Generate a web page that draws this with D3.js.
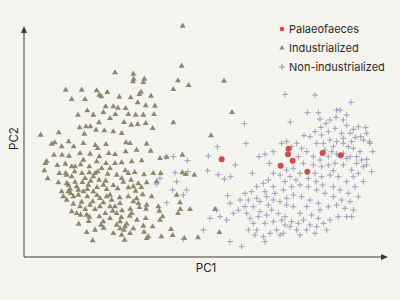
<!DOCTYPE html>
<html>
<head>
<meta charset="utf-8">
<script src="https://cdn.jsdelivr.net/npm/d3@7"></script>
<style>
  body { margin: 0; background: #f5f4ee; }
  svg { display: block; font-family: Inter, "Noto Sans", sans-serif; }
</style>
</head>
<body>
<div id="chart"></div>
<script>
// PC scores, [PC1, PC2]
const palaeofaeces = [
  [0.65, -0.28], [2.66, 0.04], [2.64, -0.13], [2.78, -0.32], [2.42, -0.47],
  [3.22, -0.65], [3.68, -0.09], [4.22, -0.16]
];

const industrialized = [
  [-0.52, 3.72], [-0.55, 2.52], [0.72, 2.07], [0.96, 1.13], [0.33, 0.43], [-0.80, 0.82], [-0.66, 2.08],
  [-0.34, 1.94], [-0.80, 1.82], [-2.55, 2.32], [-2.00, 2.28], [-1.99, 2.13], [-2.01, 2.05], [-1.67, 2.13],
  [-1.70, 2.03], [-4.03, 1.80], [-3.55, 1.80], [-3.10, 1.78], [-3.02, 1.65], [-2.96, 1.60], [-2.78, 1.73],
  [-3.85, 1.52], [-3.45, 1.52], [-2.42, 1.59], [-2.08, 1.57], [-1.82, 1.67], [-1.77, 1.74], [-1.47, 1.62],
  [-1.87, 1.42], [-2.83, 1.30], [-2.60, 1.30], [-2.46, 1.26], [-2.23, 1.25], [-1.63, 1.33], [-1.35, 1.32],
  [-3.66, 1.05], [-3.20, 1.05], [-3.38, 1.18], [-2.90, 1.13], [-2.70, 0.95], [-2.54, 1.07], [-2.15, 1.07],
  [-1.93, 1.05], [-1.70, 1.05], [-1.38, 1.07], [-3.29, 0.70], [-3.61, 0.67], [-3.42, 0.70], [-3.47, 0.48],
  [-3.12, 0.60], [-2.87, 0.58], [-3.03, 0.82], [-2.28, 0.83], [-2.06, 0.75], [-1.87, 0.77], [-1.63, 0.80],
  [-1.42, 0.65], [-2.60, 0.55], [-2.35, 0.50], [-4.78, 0.45], [-4.24, 0.52], [-3.94, 0.25], [-4.45, 0.18],
  [-4.36, 0.22], [-4.15, 0.10], [-3.79, 0.10], [-3.50, 0.20], [-3.14, 0.14], [-3.07, 0.05], [-2.82, 0.17],
  [-2.22, 0.22], [-2.10, 0.20], [-1.90, 0.00], [-1.60, 0.18], [-1.48, -0.03], [-1.20, -0.25], [-1.00, -0.22],
  [-0.53, -0.15], [-4.38, -0.15], [-4.14, -0.15], [-3.93, -0.18], [-3.60, -0.10], [-3.30, -0.12], [-3.02, -0.20],
  [-2.74, -0.10], [-2.55, -0.13], [-2.23, -0.05], [-4.60, -0.34], [-4.64, -0.40], [-4.28, -0.46], [-4.04, -0.42],
  [-3.85, -0.50], [-3.58, -0.44], [-3.32, -0.50], [-3.10, -0.35], [-2.82, -0.40], [-2.55, -0.40], [-2.35, -0.38],
  [-2.05, -0.35], [-1.75, -0.32], [-4.67, -0.62], [-4.57, -0.86], [-4.22, -0.70], [-4.03, -0.70], [-3.76, -0.65],
  [-3.54, -0.70], [-3.32, -0.68], [-3.07, -0.65], [-2.77, -0.72], [-2.50, -0.75], [-2.24, -0.62], [-1.96, -0.67],
  [-1.68, -0.74], [-1.40, -0.70], [-1.18, -0.70], [-0.53, -0.68], [-0.43, -0.73], [-0.17, -0.75], [-4.25, -0.98],
  [-4.00, -1.00], [-3.75, -0.96], [-3.53, -0.97], [-3.28, -0.93], [-3.03, -0.90], [-2.83, -0.93], [-2.60, -1.06],
  [-2.30, -0.96], [-2.07, -0.90], [-1.85, -1.01], [-1.60, -0.98], [-1.30, -0.95], [-3.90, -1.17], [-3.65, -1.20],
  [-3.38, -1.18], [-3.09, -1.12], [-2.80, -1.18], [-2.47, -1.16], [-2.15, -1.13], [-1.93, -1.23], [-1.76, -1.12],
  [-4.10, -1.40], [-3.88, -1.30], [-3.65, -1.35], [-3.38, -1.40], [-3.09, -1.36], [-2.70, -1.35], [-2.41, -1.43],
  [-2.15, -1.40], [-1.90, -1.46], [-1.72, -1.34], [-1.45, -1.40], [-0.70, -1.35], [-4.00, -1.50], [-3.80, -1.62],
  [-3.55, -1.56], [-3.22, -1.55], [-2.90, -1.58], [-2.70, -1.70], [-2.40, -1.60], [-2.00, -1.55], [-1.60, -1.65],
  [-1.25, -1.70], [-0.60, -1.58], [-3.70, -1.90], [-3.44, -1.78], [-3.15, -1.78], [-2.84, -1.90], [-2.62, -1.83],
  [-2.34, -1.82], [-2.09, -1.77], [-1.82, -1.72], [-1.62, -1.77], [-1.22, -1.83], [-0.59, -1.78], [-0.30, -1.78],
  [0.45, -1.78], [-3.58, -1.95], [-3.32, -2.01], [-3.02, -2.00], [-2.70, -2.05], [-2.36, -2.02], [-2.11, -1.98],
  [-1.89, -2.10], [-1.63, -2.05], [-1.12, -2.00], [-0.66, -1.90], [-3.64, -2.22], [-3.34, -2.14], [-2.97, -2.25],
  [-2.50, -2.25], [-2.20, -2.22], [-1.70, -2.28], [-1.42, -2.30], [-1.20, -2.10], [-0.87, -2.38], [-3.40, -2.47],
  [-2.89, -2.34], [-2.40, -2.36], [-2.28, -2.40], [-2.00, -2.36], [-1.68, -2.46], [-1.55, -2.60], [-1.16, -2.60],
  [-0.82, -2.56], [-0.47, -2.65], [-0.06, -2.63], [-3.22, -2.72], [-2.26, -2.70], [-1.60, -2.65], [0.58, -2.47],
  [-3.95, -1.05], [-3.85, -0.80], [-3.70, -1.10], [-3.50, -1.25], [-3.35, -1.05], [-3.20, -1.25], [-3.00, -1.45],
  [-3.15, -0.70], [-3.45, -0.85], [-2.90, -1.05], [-2.80, -1.40], [-2.65, -1.50], [-2.55, -1.70], [-2.50, -1.90],
  [-2.40, -2.15], [-2.25, -2.30], [-2.10, -2.50], [-2.35, -2.55], [-3.00, -1.70], [-3.30, -1.65], [-3.60, -1.70],
  [-3.80, -1.40], [-3.95, -1.25], [-3.75, -0.50], [-3.50, -0.30], [-2.95, -0.55], [-2.70, -0.55], [-3.20, -0.80],
  [-2.35, -0.85], [-2.15, -0.70], [-2.00, -1.10], [-1.85, -1.60], [-2.05, -1.90], [-2.90, -2.15], [-3.15, -2.40],
  [-2.60, -2.50], [-4.00, -0.75], [-4.15, -1.25], [-3.85, -1.85], [-3.40, -1.95]
];

const nonIndustrialized = [
  [2.55, 1.67], [3.45, 1.65], [4.53, 1.43], [3.22, 1.12], [3.55, 1.12], [4.10, 1.20], [4.20, 1.20],
  [4.40, 1.05], [1.33, 0.79], [2.71, 0.84], [4.97, 0.67], [1.38, 0.20], [3.12, 0.43], [0.52, 0.10],
  [0.25, -0.18], [-1.02, -0.20], [-0.80, -0.20], [-0.38, -0.32], [-0.75, -0.68], [-0.36, -0.65], [-1.20, -0.85],
  [-1.30, -1.02], [-0.82, -1.20], [0.83, -1.37], [1.06, -0.45], [0.23, -0.62], [0.55, -0.74], [0.73, -0.87],
  [0.92, -0.80], [1.57, -0.70], [1.77, -0.20], [1.95, -0.13], [2.08, -0.40], [2.45, 0.20], [2.60, 0.25],
  [2.20, -0.05], [3.60, 0.93], [3.78, 0.80], [3.63, 0.68], [3.90, 0.90], [4.08, 0.98], [4.30, 0.90],
  [4.40, 0.74], [4.60, 0.62], [4.75, 0.70], [4.82, 0.40], [4.90, 0.30], [5.08, 0.25], [4.66, 0.38],
  [4.50, 0.50], [4.25, 0.50], [4.05, 0.65], [3.85, 0.55], [3.65, 0.45], [3.45, 0.55], [3.30, 0.40],
  [3.50, 0.20], [3.70, 0.20], [3.90, 0.30], [4.10, 0.25], [4.30, 0.20], [4.45, 0.10], [4.60, 0.05],
  [4.80, -0.05], [5.00, -0.28], [5.15, -0.65], [4.90, -0.50], [4.70, -0.40], [4.50, -0.20], [4.30, -0.10],
  [4.10, -0.12], [3.95, -0.05], [3.85, -0.20], [3.60, -0.30], [3.40, -0.20], [3.20, -0.05], [3.05, 0.05],
  [2.90, 0.20], [2.75, 0.10], [2.95, -0.20], [3.10, -0.40], [3.40, -0.45], [3.65, -0.50], [3.85, -0.45],
  [4.05, -0.40], [4.30, -0.45], [4.55, -0.60], [4.75, -0.70], [4.90, -0.95], [4.65, -1.10], [4.40, -0.95],
  [4.15, -0.80], [3.90, -0.75], [3.65, -0.80], [3.45, -0.70], [3.25, -0.85], [3.00, -0.70], [2.80, -0.55],
  [2.60, -0.60], [2.40, -0.75], [2.20, -0.70], [2.05, -0.90], [1.90, -1.00], [1.70, -1.10], [1.55, -1.25],
  [1.35, -1.30], [1.20, -1.50], [1.15, -1.80], [1.40, -1.90], [1.60, -1.70], [1.80, -1.55], [2.00, -1.40],
  [2.25, -1.30], [2.50, -1.20], [2.75, -1.10], [3.00, -1.05], [3.25, -1.10], [3.50, -1.20], [3.75, -1.30],
  [4.00, -1.40], [4.25, -1.50], [4.50, -1.55], [4.75, -1.40], [4.60, -1.80], [4.40, -2.00], [4.15, -2.00],
  [3.90, -2.10], [3.70, -2.20], [3.50, -2.30], [3.80, -2.40], [3.45, -2.50], [3.20, -2.40], [2.95, -2.20],
  [2.75, -2.15], [2.55, -2.00], [2.35, -1.90], [2.15, -1.80], [2.00, -1.95], [1.75, -2.00], [1.60, -2.20],
  [1.45, -2.40], [1.65, -2.55], [1.90, -2.60], [2.10, -2.50], [2.30, -2.40], [2.50, -2.50], [2.70, -2.30],
  [2.90, -2.40], [3.10, -2.10], [3.35, -1.95], [3.60, -1.80], [3.85, -1.70], [4.10, -1.65], [3.20, -1.70],
  [3.00, -1.90], [2.80, -1.70], [2.60, -1.65], [2.40, -1.55], [2.20, -1.50], [2.60, -1.45], [2.80, -1.35],
  [3.05, -1.40], [3.30, -1.50], [3.55, -1.60], [0.90, -1.60], [1.00, -1.90], [0.80, -2.10], [0.60, -2.00],
  [0.30, -2.05], [0.10, -2.40], [0.90, -2.75], [1.25, -2.90], [1.95, -2.75], [2.40, -2.55], [2.55, -2.25],
  [1.70, -2.40], [5.10, 0.20], [5.00, 0.50], [5.18, -0.05], [5.00, -0.45], [3.48, -0.95], [3.68, -1.05],
  [4.00, -1.10], [4.20, -1.20], [4.45, -1.30], [4.00, -0.62], [3.75, 0.00], [4.00, 0.10], [4.30, 0.35],
  [4.55, 0.25], [4.40, -0.25], [4.70, -0.20], [4.85, -0.30], [4.60, -0.80], [2.88, -0.90], [2.70, -0.80],
  [2.55, -0.95], [2.20, -1.10], [1.95, -1.25], [1.70, -1.45], [1.45, -1.50], [1.35, -1.70], [1.50, -2.05],
  [1.95, -2.20], [2.20, -2.15], [2.45, -2.10], [3.00, -2.55], [4.35, -1.75], [4.55, -2.00], [3.30, -2.25],
  [3.55, -2.05], [1.80, -1.85], [2.05, -1.65], [-0.50, -1.35], [-1.00, -1.58], [-0.70, -0.95], [-0.40, -1.20],
  [0.50, -1.80], [-0.50, -2.67]
];

const legendLabels = ["Palaeofaeces", "Industrialized", "Non-industrialized"];
const xLabel = "PC1";
const yLabel = "PC2";

const width = 400, height = 300;
const margin = {left: 24, right: 12, top: 26, bottom: 43};

const colRed = "#cf4c4c", colOlive = "#8a896b", colBlue = "#8a90b0", axisCol = "#3a3a3a";

const svg = d3.select("#chart").append("svg")
    .attr("width", width)
    .attr("height", height);

svg.append("rect").attr("width", width).attr("height", height).attr("fill", "#f5f4ee");

const xScale = d3.scaleLinear()
    .domain([-5.28, 5.64])
    .range([margin.left, width - margin.right]);
const yScale = d3.scaleLinear()
    .domain([-3.21, 3.72])
    .range([height - margin.bottom, margin.top]);

// axes with arrow heads, no ticks
const x0 = xScale.range()[0], x1 = xScale.range()[1];
const y0 = yScale.range()[0], y1 = yScale.range()[1];
svg.append("line")
    .attr("x1", x0).attr("x2", x1 - 3)
    .attr("y1", y0).attr("y2", y0)
    .attr("stroke", axisCol).attr("stroke-width", 1);
svg.append("line")
    .attr("x1", x0).attr("x2", x0)
    .attr("y1", y0).attr("y2", y1 + 3)
    .attr("stroke", axisCol).attr("stroke-width", 1);
svg.append("path")
    .attr("d", `M${x1},${y0} L${x1 - 7},${y0 - 3} L${x1 - 7},${y0 + 3} Z`)
    .attr("fill", axisCol);
svg.append("path")
    .attr("d", `M${x0},${y1} L${x0 - 3},${y1 + 7} L${x0 + 3},${y1 + 7} Z`)
    .attr("fill", axisCol);

svg.append("text")
    .attr("x", (x0 + x1) / 2)
    .attr("y", y0 + 15)
    .attr("text-anchor", "middle")
    .attr("font-size", 11.5)
    .attr("fill", "#222")
    .text(xLabel);
svg.append("text")
    .attr("transform", `translate(${x0 - 6},${(y0 + y1) / 2 - 3}) rotate(-90)`)
    .attr("text-anchor", "middle")
    .attr("font-size", 11.5)
    .attr("fill", "#222")
    .text(yLabel);

//points
const tri = d3.symbol().type(d3.symbolTriangle).size(15);
svg.append("g").selectAll("path")
    .data(industrialized)
    .join("path")
    .attr("d", tri)
    .attr("transform", d => `translate(${xScale(d[0])},${yScale(d[1])})`)
    .attr("fill", colOlive);

svg.append("g").selectAll("path")
    .data(nonIndustrialized)
    .join("path")
    .attr("d", "M-3,0H3M0,-3V3")
    .attr("transform", d => `translate(${xScale(d[0])},${yScale(d[1])})`)
    .attr("stroke", colBlue)
    .attr("stroke-width", 0.8)
    .attr("fill", "none");

svg.append("g").selectAll("circle")
    .data(palaeofaeces)
    .join("circle")
    .attr("cx", d => xScale(d[0]))
    .attr("cy", d => yScale(d[1]))
    .attr("r", 3)
    .attr("fill", colRed);

// legend
const legend = svg.append("g").attr("transform", "translate(282,29)");
legendLabels.forEach((lab, i) => {
    const g = legend.append("g").attr("transform", `translate(0,${i * 19})`);
    if (i === 0) g.append("circle").attr("r", 2.3).attr("fill", colRed);
    if (i === 1) g.append("path").attr("d", d3.symbol().type(d3.symbolTriangle).size(12)).attr("fill", colOlive);
    if (i === 2) g.append("path").attr("d", "M-3,0H3M0,-3V3").attr("stroke", colBlue).attr("stroke-width", 0.9);
    g.append("text")
        .attr("x", 7)
        .attr("y", 4)
        .attr("font-size", 11)
        .attr("fill", "#2a2a2a")
        .text(lab);
});
</script>
</body>
</html>
